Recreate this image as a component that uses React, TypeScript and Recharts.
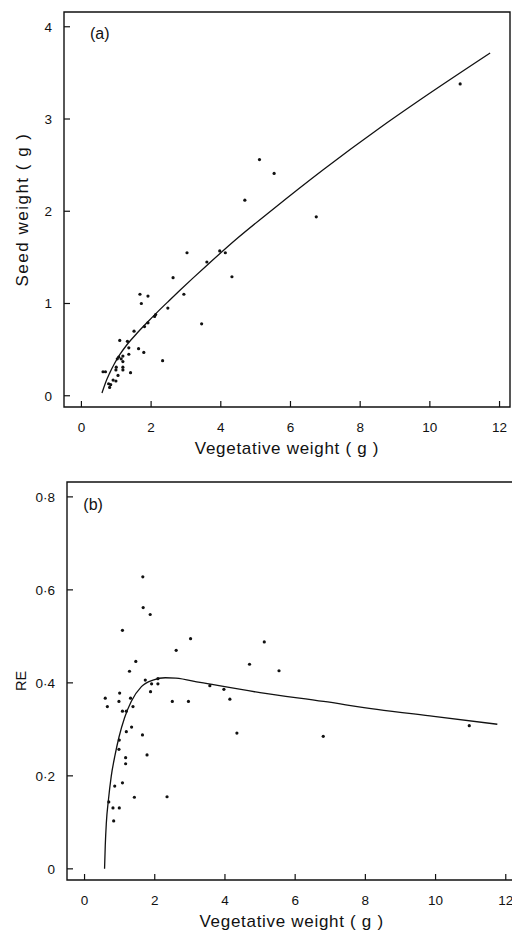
import { ComposedChart, XAxis, YAxis, Scatter, Line, ReferenceArea, Label } from "recharts"

const FONT = "'Liberation Sans', Arial, Helvetica, sans-serif"
const INK = "#111"

const xTicks = [0, 2, 4, 6, 8, 10, 12]
const seedTicks = [0, 1, 2, 3, 4]
const reTicks = [0, 0.2, 0.4, 0.6, 0.8]

// (a) seed weight vs vegetative weight, one dot per plant
const seedObsX = [10.87, 6.74, 5.53, 5.11, 4.69, 4.32, 4.13, 3.97, 3.6, 3.45, 3.03, 2.94, 2.63, 2.48, 2.33, 2.13, 2.1, 1.91, 1.72, 1.68, 1.91, 1.81, 1.51, 1.1, 1.32, 1.36, 1.64, 1.79, 1.36, 1.19, 1.07, 1.03, 1.14, 1.19, 1.0, 1.19, 1.19, 0.99, 1.41, 0.62, 0.69, 1.05, 0.91, 0.99, 0.78, 0.84, 0.81]
const seedObsY = [3.38, 1.94, 2.41, 2.56, 2.12, 1.29, 1.55, 1.57, 1.45, 0.78, 1.55, 1.1, 1.28, 0.95, 0.38, 0.88, 0.86, 1.08, 1.0, 1.1, 0.79, 0.75, 0.7, 0.6, 0.59, 0.52, 0.51, 0.47, 0.45, 0.43, 0.42, 0.4, 0.4, 0.37, 0.31, 0.31, 0.28, 0.28, 0.25, 0.26, 0.26, 0.22, 0.17, 0.16, 0.13, 0.12, 0.09]

// (a) fitted curve
const seedFitX = [0.59, 0.7, 0.81, 0.95, 1.1, 1.3, 1.6, 1.9, 2.2, 2.5, 2.82, 3.2, 3.59, 4.5, 5.49, 6.92, 8.55, 9.69, 11.73]
const seedFitY = [0.03, 0.15, 0.245, 0.35, 0.445, 0.55, 0.68, 0.8, 0.915, 1.025, 1.14, 1.275, 1.41, 1.715, 2.02, 2.445, 2.9, 3.2, 3.715]

// (b) reproductive effort
const reObsX = [1.66, 1.67, 1.87, 1.08, 3.02, 2.61, 4.7, 1.46, 1.28, 1.73, 1.91, 2.09, 2.09, 3.57, 3.97, 4.14, 4.34, 1.88, 0.59, 0.65, 1.0, 0.98, 1.31, 1.38, 2.5, 2.96, 1.08, 1.19, 1.34, 1.19, 1.65, 0.99, 0.98, 1.78, 1.17, 1.17, 1.08, 0.86, 1.42, 2.35, 0.69, 0.81, 0.99, 0.83, 5.12, 5.54, 6.8, 10.96]
const reObsY = [0.628, 0.562, 0.547, 0.513, 0.495, 0.47, 0.44, 0.446, 0.425, 0.406, 0.398, 0.409, 0.398, 0.394, 0.386, 0.365, 0.292, 0.381, 0.367, 0.349, 0.378, 0.36, 0.367, 0.349, 0.36, 0.36, 0.339, 0.339, 0.305, 0.295, 0.288, 0.277, 0.257, 0.245, 0.239, 0.226, 0.185, 0.178, 0.154, 0.155, 0.144, 0.131, 0.131, 0.103, 0.488, 0.426, 0.285, 0.308]

// (b) fitted curve
const reFitX = [0.57, 0.59, 0.62, 0.68, 0.76, 0.87, 0.98, 1.14, 1.33, 1.62, 1.95, 2.3, 2.6, 3.29, 5.0, 6.81, 8.33, 9.95, 11.76]
const reFitY = [0, 0.05, 0.098, 0.148, 0.199, 0.245, 0.283, 0.325, 0.36, 0.392, 0.406, 0.411, 0.41, 0.401, 0.379, 0.36, 0.343, 0.328, 0.311]

const xDomain = [-0.5, 12.3]
const seedDomain = [-0.122, 4.16]
const reDomain = [-0.024, 0.832]

const zip = (xs: number[], ys: number[]) => xs.map((x, i) => ({ x, y: ys[i] }))

const Dot = (p: any) => <circle cx={p.cx} cy={p.cy} r={1.6} fill={INK} />

const XTick = (props: any) => {
  const { x, y, payload } = props
  return (
    <g>
      <line x1={x} y1={y} x2={x} y2={y - 6} stroke={INK} strokeWidth={1.2} />
      <text x={x} y={y + 25} textAnchor="middle" fontSize={13.5} fontFamily={FONT} fill={INK}>
        {payload.value}
      </text>
    </g>
  )
}

const makeYTick = (fmt: (v: number) => string) => (props: any) => {
  const { x, y, payload } = props
  return (
    <g>
      <line x1={x} y1={y} x2={x + 6} y2={y} stroke={INK} strokeWidth={1.2} />
      <text x={x - 12} y={y + 5} textAnchor="end" fontSize={13.5} fontFamily={FONT} fill={INK}>
        {fmt(payload.value)}
      </text>
    </g>
  )
}

function Panel(props: any) {
  const { obs, fit, yTicks, yDomain, yLabel, yLabelX, yLabelSize, yLabelSpacing, tag, tagDx, tagDy, fmt, width, height, margin, yAxisWidth } = props
  return (
    <ComposedChart width={width} height={height} margin={margin}>
      <XAxis
        type="number"
        dataKey="x"
        domain={xDomain}
        ticks={xTicks}
        allowDataOverflow
        axisLine={false}
        tickLine={false}
        tickSize={0}
        tickMargin={0}
        height={50}
        tick={XTick}
        interval={0}
      >
        <Label
          content={({ viewBox }: any) => (
            <text
              x={viewBox.x + viewBox.width / 2}
              y={viewBox.y + 46.5}
              textAnchor="middle"
              fontSize={17}
              letterSpacing={0.7}
              fontFamily={FONT}
              fill={INK}
            >
              Vegetative weight ( g )
            </text>
          )}
        />
      </XAxis>
      <YAxis
        type="number"
        dataKey="y"
        domain={yDomain}
        ticks={yTicks}
        allowDataOverflow
        axisLine={false}
        tickLine={false}
        tickSize={0}
        tickMargin={0}
        width={yAxisWidth}
        tick={makeYTick(fmt)}
        interval={0}
      >
        <Label
          content={({ viewBox }: any) => {
            const cy = viewBox.y + viewBox.height / 2
            return (
              <text
                x={yLabelX}
                y={cy}
                transform={`rotate(-90 ${yLabelX} ${cy})`}
                textAnchor="middle"
                fontSize={yLabelSize}
                letterSpacing={yLabelSpacing}
                fontFamily={FONT}
                fill={INK}
              >
                {yLabel}
              </text>
            )
          }}
        />
      </YAxis>
      <ReferenceArea
        x1={xDomain[0]}
        x2={xDomain[1]}
        y1={yDomain[0]}
        y2={yDomain[1]}
        fill="none"
        stroke={INK}
        strokeWidth={1.4}
        ifOverflow="visible"
      >
        <Label
          content={({ viewBox }: any) => (
            <text x={viewBox.x + tagDx} y={viewBox.y + tagDy} fontSize={16} fontFamily={FONT} fill={INK}>
              {tag}
            </text>
          )}
        />
      </ReferenceArea>
      <Line
        data={fit}
        dataKey="y"
        type="monotone"
        stroke={INK}
        strokeWidth={1.3}
        dot={false}
        activeDot={false}
        isAnimationActive={false}
      />
      <Scatter data={obs} dataKey="y" shape={Dot} isAnimationActive={false} />
    </ComposedChart>
  )
}

export default function App() {
  return (
    <div style={{ position: "absolute", left: 0, top: 0, width: 512, height: 932, overflow: "hidden", background: "#fff" }}>
      <div style={{ position: "absolute", left: 0, top: 0 }}>
        <Panel
          obs={zip(seedObsX, seedObsY)}
          fit={zip(seedFitX, seedFitY)}
          yTicks={seedTicks}
          yDomain={seedDomain}
          yLabel="Seed weight ( g )"
          yLabelX={28}
          yLabelSize={17}
          yLabelSpacing={1.5}
          tag="(a)"
          tagDx={26}
          tagDy={26.5}
          fmt={(v: number) => String(v)}
          width={512}
          height={470}
          margin={{ top: 12, right: 2, bottom: 13, left: 0 }}
          yAxisWidth={64}
        />
      </div>
      <div style={{ position: "absolute", left: 0, top: 470 }}>
        <Panel
          obs={zip(reObsX, reObsY)}
          fit={zip(reFitX, reFitY)}
          yTicks={reTicks}
          yDomain={reDomain}
          yLabel="RE"
          yLabelX={26}
          yLabelSize={14.5}
          yLabelSpacing={0}
          tag="(b)"
          tagDx={16.3}
          tagDy={28}
          fmt={(v: number) => String(v).replace(".", "·")}
          width={520}
          height={462}
          margin={{ top: 12, right: 3.7, bottom: 2, left: 0 }}
          yAxisWidth={67}
        />
      </div>
    </div>
  )
}
